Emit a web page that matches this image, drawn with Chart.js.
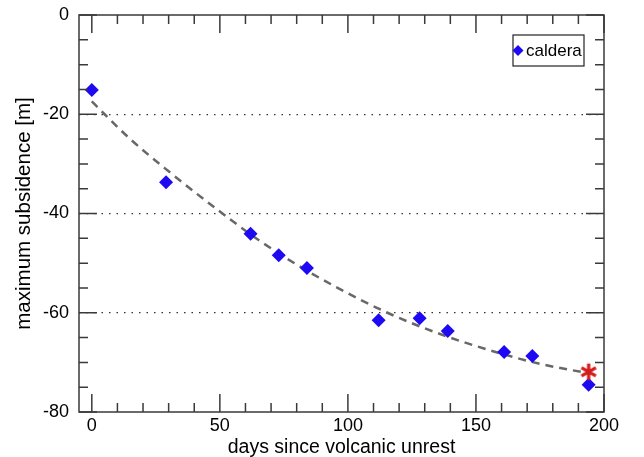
<!DOCTYPE html>
<html>
<head>
<meta charset="utf-8">
<script src="https://cdn.jsdelivr.net/npm/chart.js@4.4.1/dist/chart.umd.min.js"></script>
<style>
  html, body { margin: 0; padding: 0; background: #fff; }
  #wrap { width: 644px; height: 457px; }
</style>
</head>
<body>
<div id="wrap"><canvas id="subsidence-chart" width="644" height="457"></canvas></div>
<script>
// measured points
const days = [0, 29, 62, 73, 84, 112, 128, 139, 161, 172, 194];
const subsidence = [-15.1, -33.7, -44.1, -48.4, -51.0, -61.5, -61.1, -63.7, -67.9, -68.7, -74.5];

// dashed fit curve
const fitDays = [0, 5, 15, 30, 50, 65, 80, 95, 115, 135, 155, 175, 194];
const fitSubsidence = [-17.4, -20.0, -25.0, -31.5, -39.6, -45.3, -50.3, -54.7, -59.9, -64.1, -67.5, -70.3, -72.2];

// red asterisk
const starDay = [194];
const starSubsidence = [-71.9];

const xTicksLabelled = [0, 50, 100, 150, 200];
const yTicksLabelled = [0, -20, -40, -60, -80];
const yDotted = [-20, -40, -60];

const blue = '#1e0af2';
const frameColor = '#3a3a3a';

Chart.defaults.font.family = "'Liberation Sans', Arial, Helvetica, sans-serif";
Chart.defaults.color = '#000';

// asterisk marker
const starImg = document.createElement('canvas');
starImg.width = 20;
starImg.height = 20;
const sc = starImg.getContext('2d');
sc.strokeStyle = '#d41c1c';
sc.lineWidth = 3.3;
sc.beginPath();
for (let k = 0; k < 3; k++) {
  const a = Math.PI / 2 + k * Math.PI / 3;
  sc.moveTo(10 + 8.3 * Math.cos(a), 10 - 8.3 * Math.sin(a));
  sc.lineTo(10 - 8.3 * Math.cos(a), 10 + 8.3 * Math.sin(a));
}
sc.stroke();

// drop the scale paddings so the plot box lands where the layout padding says
function noPad(scale) {
  scale.paddingTop = 0;
  scale.paddingBottom = 0;
  scale.paddingLeft = 0;
  scale.paddingRight = 0;
}

// box frame with inward ticks on all four sides
const frameTicks = {
  id: 'frameTicks',
  afterDatasetsDraw(chart) {
    const { ctx, chartArea: a, scales } = chart;
    ctx.save();
    ctx.strokeStyle = frameColor;
    ctx.lineWidth = 1.5;
    ctx.beginPath();
    scales.x.ticks.forEach(t => {
      const px = scales.x.getPixelForValue(t.value);
      const len = t.value % 50 === 0 ? 18 : 9;
      ctx.moveTo(px, a.bottom); ctx.lineTo(px, a.bottom - len);
      ctx.moveTo(px, a.top); ctx.lineTo(px, a.top + len);
    });
    scales.y.ticks.forEach(t => {
      const py = scales.y.getPixelForValue(t.value);
      const len = t.value % 20 === 0 ? 18 : 9;
      ctx.moveTo(a.left, py); ctx.lineTo(a.left + len, py);
      ctx.moveTo(a.right, py); ctx.lineTo(a.right - len, py);
    });
    ctx.stroke();
    ctx.strokeRect(a.left, a.top, a.right - a.left, a.bottom - a.top);
    ctx.restore();
  }
};

// boxed legend in the upper right corner
const boxLegend = {
  id: 'boxLegend',
  afterDraw(chart) {
    const { ctx, chartArea: a } = chart;
    const label = chart.data.datasets[0].label;
    const x0 = a.right - 91, y0 = a.top + 20, w = 71, h = 31;
    ctx.save();
    ctx.fillStyle = '#fff';
    ctx.fillRect(x0, y0, w, h);
    ctx.strokeStyle = '#222';
    ctx.lineWidth = 1.2;
    ctx.strokeRect(x0, y0, w, h);
    const cx = x0 + 5, cy = y0 + h / 2;
    ctx.fillStyle = blue;
    ctx.beginPath();
    ctx.moveTo(cx, cy - 5.5); ctx.lineTo(cx + 5.5, cy); ctx.lineTo(cx, cy + 5.5); ctx.lineTo(cx - 5.5, cy);
    ctx.closePath();
    ctx.fill();
    ctx.fillStyle = '#000';
    ctx.font = "17px 'Liberation Sans', Arial, sans-serif";
    ctx.textBaseline = 'middle';
    ctx.fillText(label, x0 + 13, cy + 1);
    ctx.restore();
  }
};

new Chart(document.getElementById('subsidence-chart'), {
  type: 'scatter',
  data: {
    datasets: [
      {
        label: 'caldera',
        data: days.map((d, i) => ({ x: d, y: subsidence[i] })),
        pointStyle: 'rectRot',
        pointRadius: 7,
        pointHoverRadius: 7,
        backgroundColor: blue,
        borderColor: blue,
        borderWidth: 0,
        order: 1
      },
      {
        label: 'fit',
        type: 'line',
        data: fitDays.map((d, i) => ({ x: d, y: fitSubsidence[i] })),
        borderColor: '#686868',
        borderWidth: 2.5,
        borderDash: [8, 6],
        pointRadius: 0,
        fill: false,
        cubicInterpolationMode: 'monotone',
        order: 2
      },
      {
        label: 'latest',
        data: starDay.map((d, i) => ({ x: d, y: starSubsidence[i] })),
        pointStyle: starImg,
        pointRadius: 10,
        order: 0
      }
    ]
  },
  options: {
    responsive: false,
    animation: false,
    layout: { padding: { top: 15, right: 40, bottom: 0, left: 0 } },
    plugins: {
      legend: { display: false },
      tooltip: { enabled: false }
    },
    scales: {
      x: {
        type: 'linear',
        min: -5,
        max: 200,
        afterBuildTicks: scale => {
          const ticks = [];
          for (let v = 0; v <= 200; v += 10) ticks.push({ value: v });
          scale.ticks = ticks;
        },
        afterFit: scale => { scale.height = 45; noPad(scale); },
        border: { display: false },
        grid: { display: false, drawTicks: false },
        ticks: {
          autoSkip: false,
          maxRotation: 0,
          padding: 3,
          font: { size: 18 },
          callback: v => xTicksLabelled.includes(v) ? v : ''
        },
        title: {
          display: true,
          text: 'days since volcanic unrest',
          font: { size: 19.5, lineHeight: 1 },
          padding: { top: 0, bottom: 0 }
        }
      },
      y: {
        min: -80,
        max: 0,
        afterFit: scale => { scale.width = 79; noPad(scale); },
        border: { display: false, dash: [1.5, 6] },
        grid: {
          drawTicks: false,
          lineWidth: 1.3,
          color: c => yDotted.includes(c.tick.value) ? '#333' : 'rgba(0,0,0,0)'
        },
        ticks: {
          stepSize: 5,
          autoSkip: false,
          padding: 10,
          font: { size: 18 },
          callback: v => yTicksLabelled.includes(v) ? v : ''
        },
        title: {
          display: true,
          text: 'maximum subsidence [m]',
          font: { size: 20.5 },
          padding: { top: 12, bottom: 0 }
        }
      }
    }
  },
  plugins: [frameTicks, boxLegend]
});
</script>
</body>
</html>
